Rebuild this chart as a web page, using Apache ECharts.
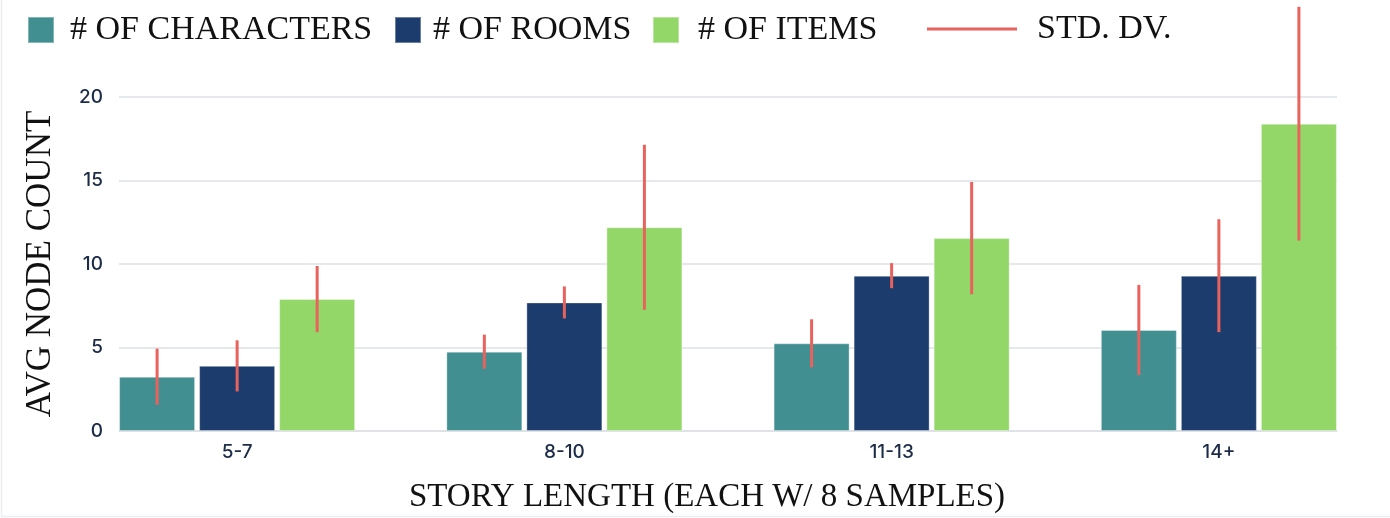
<!DOCTYPE html>
<html>
<head>
<meta charset="utf-8">
<script src="https://cdn.jsdelivr.net/npm/echarts@6/dist/echarts.min.js"></script>
<style>
  html, body { margin: 0; padding: 0; background: #fff; }
  #chart { width: 1390px; height: 518px; }
</style>
</head>
<body>
<div id="chart"></div>
<script>
// story length buckets
const categories = ["5-7", "8-10", "11-13", "14+"];
const seriesNames = ["# OF CHARACTERS", "# OF ROOMS", "# OF ITEMS"];

// average node counts
const characters = [3.25, 4.75, 5.25, 6.05];
const rooms = [3.9, 7.7, 9.3, 9.3];
const items = [7.9, 12.2, 11.55, 18.4];

// standard deviations
const charactersSd = [1.68, 1.02, 1.44, 2.7];
const roomsSd = [1.53, 0.96, 0.75, 3.38];
const itemsSd = [1.98, 4.94, 3.36, 7.0];

const yTicks = [0, 5, 10, 15, 20];

const colors = ["#428f92", "#1b3c6d", "#94d769"];
const errColor = "#e9625d";
const serif = "'Liberation Serif', 'Times New Roman', serif";
const sans = "Inter, 'Noto Sans', sans-serif";

const BAR_W = 76;
const BAR_GAP = 0.053;

const means = [characters, rooms, items];
const sds = [charactersSd, roomsSd, itemsSd];

// [category, mean, sd, series index]
const errData = [];
means.forEach((arr, s) => {
  arr.forEach((v, c) => errData.push([c, v, sds[s][c], s]));
});

const chart = echarts.init(document.getElementById("chart"));

// one legend per item so each sits where the original has it
const legendItem = (left, name, gap) => ({
  left,
  top: 13,
  padding: 0,
  itemWidth: 26,
  itemHeight: 26,
  icon: "rect",
  data: [name],
  selectedMode: false,
  textStyle: {
    fontFamily: serif,
    fontSize: 34,
    lineHeight: 26,
    color: "#111",
    padding: [0, 0, 0, gap],
  },
});

const option = {
  animation: false,
  backgroundColor: "#fff",
  legend: [
    legendItem(27, seriesNames[0], 11),
    legendItem(394, seriesNames[1], 7),
    legendItem(652, seriesNames[2], 14),
    {
      ...legendItem(927, "STD. DV.", 15),
      top: 12,
      itemWidth: 90,
      itemHeight: 3,
      textStyle: {
        fontFamily: serif,
        fontSize: 34,
        lineHeight: 26,
        color: "#111",
        padding: [0, 0, 5, 15],
      },
    },
  ],
  grid: [
    // axes and grid lines
    { left: 119, right: 53, top: 97, bottom: 87, outerBoundsMode: "none" },
    // bars
    { left: 73.5, right: 7.5, top: 97, bottom: 87, outerBoundsMode: "none" },
  ],
  xAxis: [
    {
      gridIndex: 0,
      type: "category",
      data: categories,
      axisLine: { lineStyle: { color: "#dde1e6", width: 1.5 } },
      axisTick: { show: false },
      axisLabel: { show: false },
      name: "STORY LENGTH (EACH W/ 8 SAMPLES)",
      nameLocation: "middle",
      nameGap: 50,
      nameTextStyle: {
        fontFamily: serif,
        fontSize: 33,
        color: "#111",
        padding: [0, 42, 0, 0],
      },
    },
    {
      gridIndex: 1,
      type: "category",
      data: categories,
      axisLine: { show: false },
      axisTick: { show: false },
      axisLabel: {
        fontFamily: sans,
        fontSize: 19,
        fontWeight: 500,
        color: "#1c2b47",
        margin: 12,
      },
    },
  ],
  yAxis: [
    {
      gridIndex: 0,
      type: "value",
      min: yTicks[0],
      max: yTicks[yTicks.length - 1],
      interval: 5,
      axisLine: { show: false },
      axisTick: { show: false },
      axisLabel: {
        fontFamily: sans,
        fontSize: 19,
        fontWeight: 500,
        color: "#1c2b47",
        margin: 16,
      },
      splitLine: { lineStyle: { color: "#dde1e6", width: 1.5 } },
      name: "AVG NODE COUNT",
      nameLocation: "middle",
      nameGap: 61,
      nameTextStyle: { fontFamily: serif, fontSize: 35, color: "#111" },
    },
    {
      gridIndex: 1,
      type: "value",
      min: yTicks[0],
      max: yTicks[yTicks.length - 1],
      show: false,
    },
  ],
  series: [
    ...seriesNames.map((name, i) => ({
      name,
      type: "bar",
      xAxisIndex: 1,
      yAxisIndex: 1,
      data: means[i],
      barWidth: BAR_W,
      barGap: BAR_GAP * 100 + "%",
      itemStyle: {
        color: colors[i],
        borderColor: "rgba(255,255,255,0.35)",
        borderWidth: 1,
      },
    })),
    {
      name: "STD. DV.",
      type: "custom",
      xAxisIndex: 1,
      yAxisIndex: 1,
      clip: false,
      z: 10,
      itemStyle: { color: errColor },
      data: errData,
      renderItem: (params, api) => {
        const c = api.value(0);
        const m = api.value(1);
        const sd = api.value(2);
        const s = api.value(3);
        const step = BAR_W * (1 + BAR_GAP);
        const dx = (s - 1) * step;
        const top = api.coord([c, m + sd]);
        const bot = api.coord([c, m - sd]);
        return {
          type: "line",
          shape: { x1: top[0] + dx, y1: top[1], x2: bot[0] + dx, y2: bot[1] },
          style: { stroke: errColor, lineWidth: 3 },
        };
      },
    },
  ],
  graphic: [
    {
      type: "polyline",
      shape: { points: [[1.5, 0], [1.5, 516.5], [1390, 516.5]] },
      style: { stroke: "#ebedf0", fill: null, lineWidth: 1.5 },
      silent: true,
    },
  ],
};

chart.setOption(option);
</script>
</body>
</html>
